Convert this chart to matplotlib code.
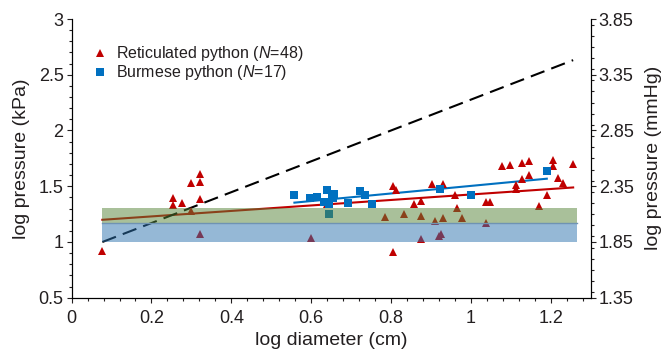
import numpy as np
import matplotlib
matplotlib.use('Agg')
import matplotlib.pyplot as plt
from matplotlib.ticker import MultipleLocator

plt.rcParams['font.family'] = ['Liberation Sans', 'DejaVu Sans']
plt.rcParams['mathtext.fontset'] = 'custom'
plt.rcParams['mathtext.rm'] = 'Liberation Sans'
plt.rcParams['mathtext.it'] = 'Liberation Sans:italic'

# reticulated python: log diameter, log pressure (kPa)
ret_x = [0.077, 0.254, 0.254, 0.277, 0.30, 0.30, 0.321, 0.321, 0.321, 0.321,
         0.60, 0.784, 0.806, 0.812, 0.806, 0.8315, 0.857, 0.875, 0.875, 0.875,
         0.9025, 0.909, 0.919, 0.925, 0.929, 0.93, 0.959, 0.964, 0.978, 1.039,
         1.049, 1.039, 1.079, 1.0975, 1.114, 1.114, 1.129, 1.129, 1.1465, 1.1465,
         1.171, 1.19, 1.205, 1.205, 1.2175, 1.231, 1.256, 0.64]
ret_y = [0.92, 1.39, 1.33, 1.35, 1.53, 1.28, 1.61, 1.54, 1.385, 1.07,
         1.04, 1.228, 1.498, 1.462, 0.914, 1.253, 1.343, 1.372, 1.237, 1.025,
         1.522, 1.187, 1.058, 1.07, 1.522, 1.217, 1.417, 1.304, 1.217, 1.358,
         1.358, 1.169, 1.678, 1.687, 1.507, 1.478, 1.709, 1.565, 1.723, 1.603,
         1.327, 1.424, 1.732, 1.684, 1.570, 1.529, 1.696, 1.34]

# burmese python
bur_x = [0.558, 0.596, 0.614, 0.639, 0.6315, 0.658, 0.654, 0.644, 0.644, 0.6915,
         0.723, 0.735, 0.7515, 0.923, 1.0, 1.19, 0.6525]
bur_y = [1.424, 1.394, 1.403, 1.469, 1.363, 1.433, 1.394, 1.34, 1.253, 1.349,
         1.453, 1.424, 1.343, 1.475, 1.424, 1.633, 1.42]

# fitted lines (slope, intercept)
ret_fit = (0.246, 1.180)
bur_fit = (0.340, 1.163)
pred_line = (1.384, 0.893)

# shaded pressure ranges (log kPa)
green_band = (1.172, 1.304)
blue_band = (1.0, 1.172)

red = '#C00000'
blue = '#0070C0'
txt = '#231F20'

fig = plt.figure(figsize=(6.69, 3.55), dpi=100)
ax = fig.add_axes([0.107, 0.1614, 0.776, 0.785])

ax.plot(ret_x, ret_y, '^', color=red, ms=6, mew=0, zorder=3,
        label='Reticulated python ($N$=48)')
ax.plot(bur_x, bur_y, 's', color=blue, ms=5.3, mew=0, zorder=3,
        label='Burmese python ($N$=17)')

xr = np.array([min(ret_x), max(ret_x)])
xb = np.array([min(bur_x), max(bur_x)])
ax.plot(xr, ret_fit[0] * xr + ret_fit[1], color=red, lw=1.5, zorder=2)
ax.plot(xb, bur_fit[0] * xb + bur_fit[1], color=blue, lw=1.5, zorder=2)
ax.plot(xr, pred_line[0] * xr + pred_line[1], color='black', lw=1.5,
        dashes=(7, 3.5), zorder=2)

xband = [min(ret_x), max(ret_x) + 0.01]
ax.fill_between(xband, green_band[0], green_band[1], color='#558337',
                alpha=0.5, lw=0, zorder=4)
ax.fill_between(xband, blue_band[0], blue_band[1], color='#2D73AF',
                alpha=0.5, lw=0, zorder=4)
ax.plot(xband, [green_band[0]] * 2, color='#6f93b3', lw=1, zorder=4)

ax.set_xlim(0, 1.3)
ax.set_ylim(0.5, 3)
ax.xaxis.set_minor_locator(MultipleLocator(0.04))
ax.yaxis.set_minor_locator(MultipleLocator(0.1))
ax.set_xticks([0, 0.2, 0.4, 0.6, 0.8, 1.0, 1.2])
ax.set_xticklabels(['0', '0.2', '0.4', '0.6', '0.8', '1', '1.2'])
ax.set_yticks([0.5, 1, 1.5, 2, 2.5, 3])
ax.set_yticklabels(['0.5', '1', '1.5', '2', '2.5', '3'])
ax.spines['top'].set_visible(False)
ax.tick_params(which='major', length=3.8, width=0.8, labelsize=13,
               colors=txt, pad=2)
ax.tick_params(axis='x', which='major', pad=5)
ax.tick_params(which='minor', length=2.5, width=0.8, colors=txt)
ax.set_xlabel('log diameter (cm)', fontsize=14, color=txt, labelpad=4)
ax.set_ylabel('log pressure (kPa)', fontsize=14, color=txt, labelpad=6)

ax2 = ax.twinx()
ax2.set_ylim(1.35, 3.85)
ax2.set_yticks([1.35, 1.85, 2.35, 2.85, 3.35, 3.85])
ax2.set_yticklabels(['1.35', '1.85', '2.35', '2.85', '3.35', '3.85'])
ax2.yaxis.set_minor_locator(MultipleLocator(0.1))
ax2.spines['top'].set_visible(False)
ax2.tick_params(which='major', length=3.8, width=0.8, labelsize=13,
                colors=txt, pad=2)
ax2.tick_params(which='minor', length=2.5, width=0.8, colors=txt)
ax2.set_ylabel('log pressure (mmHg)', fontsize=14, color=txt, labelpad=8)

ax.legend(loc='upper left', bbox_to_anchor=(0.04, 0.91), frameon=False,
          fontsize=11.5, borderpad=0, borderaxespad=0, handlelength=1,
          handletextpad=0.5, labelspacing=0.0, labelcolor=txt)

fig.savefig('out.png', dpi=100)
